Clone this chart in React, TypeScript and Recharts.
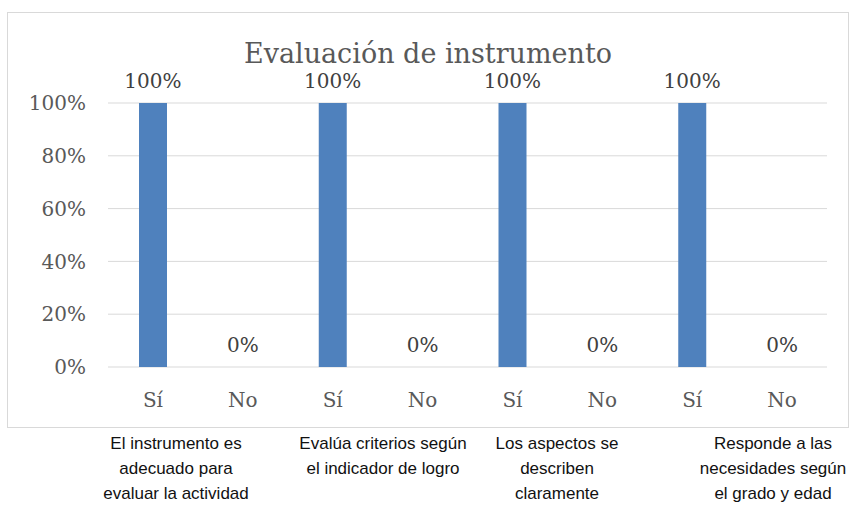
import { ComposedChart, Bar, Line, XAxis, YAxis, CartesianGrid, LabelList } from "recharts";

const answers = ["Sí", "No", "Sí", "No", "Sí", "No", "Sí", "No"];
const values = [100, 0, 100, 0, 100, 0, 100, 0];
const yTicks = [0, 20, 40, 60, 80, 100];
const groupLabels = [
  "El instrumento es\nadecuado para\nevaluar la actividad",
  "Evalúa criterios según\nel indicador de logro",
  "Los aspectos se\ndescriben\nclaramente",
  "Responde a las\nnecesidades según\nel grado y edad",
];
const groupCenters = [176, 383, 557, 773];

const data = answers.map((a, i) => ({ name: a, value: values[i] }));

const serif = "'DejaVu Serif', serif";

export default function App() {
  return (
    <div style={{ position: "absolute", left: 0, top: 0, width: 854, height: 508, background: "#fff" }}>
      <div
        style={{
          position: "absolute",
          left: 7,
          top: 12,
          width: 840,
          height: 414,
          border: "1px solid #d9d9d9",
        }}
      />
      <div
        style={{
          position: "absolute",
          left: 7,
          top: 38,
          width: 842,
          textAlign: "center",
          fontFamily: serif,
          fontSize: 27,
          lineHeight: "32px",
          color: "#595959",
        }}
      >
        Evaluación de instrumento
      </div>
      <div style={{ position: "absolute", left: 0, top: 0 }}>
        <ComposedChart width={854} height={430} data={data} margin={{ top: 103, right: 27, bottom: 33, left: 8 }}>
          <CartesianGrid vertical={false} stroke="#d9d9d9" />
          <XAxis
            dataKey="name"
            axisLine={false}
            tickLine={false}
            tickSize={0}
            tickMargin={26}
            height={30}
            interval={0}
            tick={{ fontFamily: serif, fontSize: 20, fill: "#595959" }}
          />
          <YAxis
            domain={[0, 100]}
            ticks={yTicks}
            width={100}
            axisLine={false}
            tickLine={false}
            tickSize={0}
            tickMargin={22}
            tickFormatter={(v) => `${v}%`}
            tick={{ fontFamily: serif, fontSize: 20, fill: "#595959" }}
          />
          <Bar dataKey="value" fill="#4f81bd" barSize={28} isAnimationActive={false} />
          {/* invisible series just to carry the value labels (incl. the 0% ones) */}
          <Line
            dataKey="value"
            stroke="none"
            dot={false}
            activeDot={false}
            legendType="none"
            isAnimationActive={false}
          >
            <LabelList
              dataKey="value"
              position="top"
              offset={15}
              formatter={(v: any) => `${v}%`}
              style={{ fontFamily: serif, fontSize: 20, fill: "#404040" }}
            />
          </Line>
        </ComposedChart>
      </div>
      {groupLabels.map((g, i) => (
        <div
          key={i}
          style={{
            position: "absolute",
            left: groupCenters[i] - 110,
            top: 431,
            width: 220,
            textAlign: "center",
            whiteSpace: "pre-line",
            fontFamily: "'Liberation Sans', Arial, sans-serif",
            fontSize: 17,
            lineHeight: "25px",
            color: "#111",
          }}
        >
          {g}
        </div>
      ))}
    </div>
  );
}
